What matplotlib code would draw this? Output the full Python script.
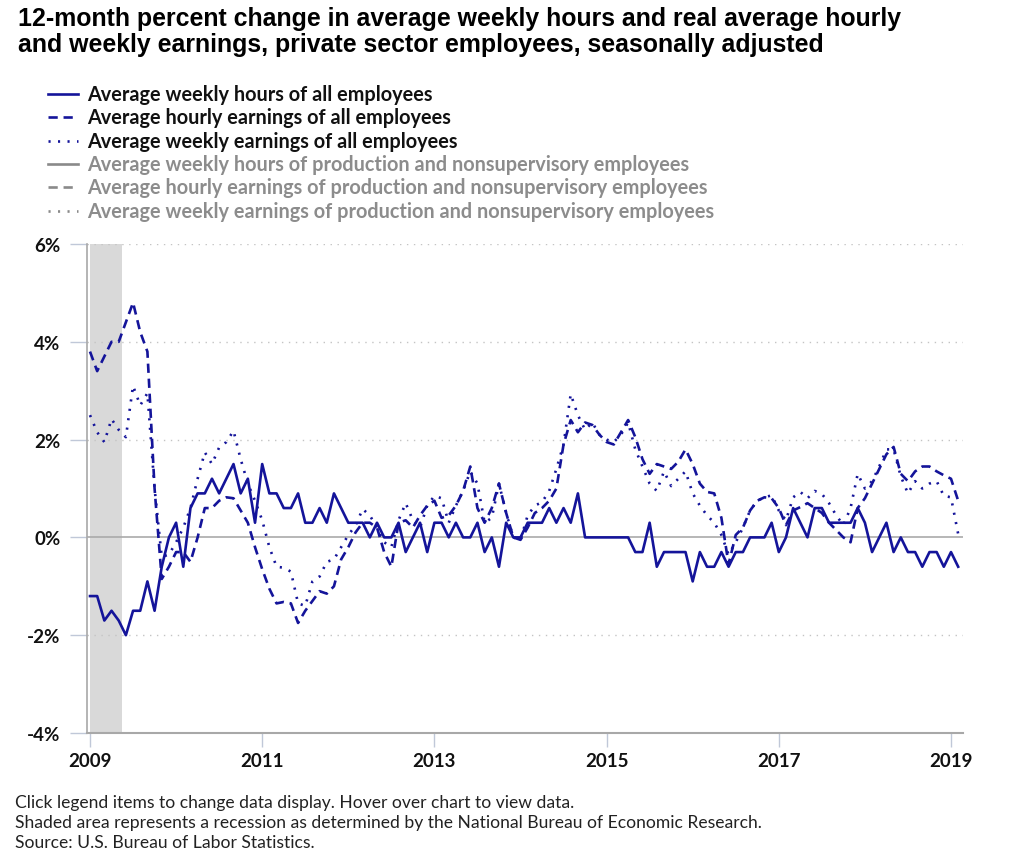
import matplotlib
matplotlib.use("Agg")
import matplotlib.pyplot as plt
from matplotlib.lines import Line2D
import numpy as np

# monthly series, Jan 2009 - Feb 2019 (12-month percent change)
hours_all = [
    -1.2, -1.2, -1.7, -1.5, -1.7, -2.0, -1.5, -1.5, -0.9, -1.5, -0.6, 0.0,
    0.3, -0.6, 0.6, 0.9, 0.9, 1.2, 0.9, 1.2, 1.5, 0.9, 1.2, 0.3,
    1.5, 0.9, 0.9, 0.6, 0.6, 0.9, 0.3, 0.3, 0.6, 0.3, 0.9, 0.6,
    0.3, 0.3, 0.3, 0.0, 0.3, 0.0, 0.0, 0.3, -0.3, 0.0, 0.3, -0.3,
    0.3, 0.3, 0.0, 0.3, 0.0, 0.0, 0.3, -0.3, 0.0, -0.6, 0.3, 0.0,
    0.0, 0.3, 0.3, 0.3, 0.6, 0.3, 0.6, 0.3, 0.9, 0.0, 0.0, 0.0,
    0.0, 0.0, 0.0, 0.0, -0.3, -0.3, 0.3, -0.6, -0.3, -0.3, -0.3, -0.3,
    -0.9, -0.3, -0.6, -0.6, -0.3, -0.6, -0.3, -0.3, 0.0, 0.0, 0.0, 0.3,
    -0.3, 0.0, 0.6, 0.3, 0.0, 0.6, 0.6, 0.3, 0.3, 0.3, 0.3, 0.6,
    0.3, -0.3, 0.0, 0.3, -0.3, 0.0, -0.3, -0.3, -0.6, -0.3, -0.3, -0.6,
    -0.3, -0.6,
]
hourly_earn_all = [
    3.8, 3.4, 3.7, 4.0, 4.0, 4.4, 4.8, 4.2, 3.8, 1.0, -0.85, -0.6,
    -0.3, -0.3, -0.5, 0.0, 0.6, 0.6, 0.75, 0.82, 0.8, 0.55, 0.3, -0.2,
    -0.65, -1.05, -1.35, -1.32, -1.35, -1.75, -1.5, -1.3, -1.1, -1.15, -1.0, -0.45,
    -0.2, 0.1, 0.3, 0.3, 0.2, -0.3, -0.6, 0.3, 0.35, 0.2, 0.45, 0.65,
    0.75, 0.4, 0.45, 0.65, 0.95, 1.45, 0.6, 0.3, 0.6, 1.1, 0.5, 0.0,
    -0.05, 0.2, 0.5, 0.6, 0.75, 1.0, 1.9, 2.4, 2.15, 2.35, 2.3, 2.1,
    1.95, 1.9, 2.15, 2.4, 2.05, 1.6, 1.3, 1.5, 1.45, 1.4, 1.55, 1.8,
    1.5, 1.1, 0.93, 0.9, 0.4, -0.55, 0.05, 0.2, 0.55, 0.75, 0.82, 0.8,
    0.6, 0.25, 0.55, 0.62, 0.7, 0.6, 0.5, 0.3, 0.15, 0.0, -0.1, 0.6,
    0.8, 1.1, 1.4, 1.7, 1.85, 1.3, 1.15, 1.35, 1.45, 1.45, 1.35, 1.27,
    1.2, 0.75,
]
weekly_earn_all = [
    2.5, 2.15, 1.95, 2.42, 2.2, 2.05, 3.1, 2.7, 2.95, 1.0, -0.4, -0.35,
    -0.1, 0.2, 0.6, 1.2, 1.74, 1.5, 1.84, 1.95, 2.18, 1.6, 1.1, 0.75,
    0.35, -0.2, -0.6, -0.62, -0.7, -1.35, -1.4, -0.9, -0.8, -0.5, -0.45, -0.2,
    0.05, 0.24, 0.58, 0.45, 0.2, -0.1, -0.2, 0.35, 0.7, 0.35, 0.2, 0.65,
    0.85, 0.8, 0.3, 0.65, 0.95, 1.35, 1.1, 0.3, 0.4, 1.1, 0.5, 0.0,
    -0.05, 0.45, 0.65, 0.72, 0.95, 1.4, 1.9, 2.93, 2.5, 2.2, 2.35, 2.1,
    2.0, 1.95, 2.1, 2.35, 1.8, 1.45, 1.1, 0.95, 1.35, 1.05, 1.2, 1.35,
    0.9, 0.65, 0.45, 0.3, 0.05, -0.35, -0.1, 0.2, 0.55, 0.75, 0.82, 0.86,
    0.55, 0.35, 0.82, 0.93, 0.8, 0.95, 0.89, 0.7, 0.45, 0.25, 0.6, 1.3,
    1.0, 1.15, 1.45, 1.8, 1.8, 1.25, 0.9, 1.15, 1.0, 1.1, 1.15, 0.85,
    0.82, 0.07,
]
legend_labels = [
    "Average weekly hours of all employees",
    "Average hourly earnings of all employees",
    "Average weekly earnings of all employees",
    "Average weekly hours of production and nonsupervisory employees",
    "Average hourly earnings of production and nonsupervisory employees",
    "Average weekly earnings of production and nonsupervisory employees",
]
title_lines = [
    "12-month percent change in average weekly hours and real average hourly",
    "and weekly earnings, private sector employees, seasonally adjusted",
]
notes = [
    "Click legend items to change data display. Hover over chart to view data.",
    "Shaded area represents a recession as determined by the National Bureau of Economic Research.",
    "Source: U.S. Bureau of Labor Statistics.",
]
y_ticks = [-4, -2, 0, 2, 4, 6]
x_ticks = [2009, 2011, 2013, 2015, 2017, 2019]
recession = (2009.0, 2009.375)

NAVY = "#14149a"
GRAY_TXT = "#8c8c8c"
FONT = "Lato"

W, H = 1024, 862
fig = plt.figure(figsize=(W / 100, H / 100), dpi=100)


def fx(px):
    return px / W


def fy(py):
    return 1 - py / H


ax = fig.add_axes([fx(87), fy(734), fx(963) - fx(87), fy(245) - fy(734)])

t = 2009 + np.arange(len(hours_all)) / 12.0
ax.axvspan(*recession, color="#d9d9d9", lw=0, zorder=0)
for yv in [6, 4, 2, -2]:
    ax.axhline(yv, color="#c4c4c4", lw=1.0, ls=(0, (1, 4)), zorder=1)
ax.axhline(0, color="#aaaaaa", lw=1.2, zorder=1)

lw = 1.9
dash = (0, (3.5, 2.2))
dot = (0, (0.8, 2.8))
ax.plot(t, hours_all, color=NAVY, lw=lw, zorder=3)
ax.plot(t, hourly_earn_all, color=NAVY, lw=lw, ls=dash, zorder=3)
ax.plot(t, weekly_earn_all, color=NAVY, lw=lw, ls=dot, zorder=3)

ax.set_xlim(2009 + (87 - 90) / 86.1, 2009 + (963 - 90) / 86.1)
ax.set_ylim(-4, 6)
ax.set_yticks(y_ticks)
ax.set_yticklabels([f"{v}%" for v in y_ticks])
ax.set_xticks(x_ticks)
ax.set_xticklabels([str(v) for v in x_ticks])
for s in ["top", "right"]:
    ax.spines[s].set_visible(False)
ax.spines["left"].set_color("#a8a8a8")
ax.spines["bottom"].set_color("#a8a8a8")
ax.spines["left"].set_linewidth(1.2)
ax.spines["bottom"].set_linewidth(1.5)
ax.tick_params(axis="y", length=12, width=1, color="#c0c8d8", pad=7)
ax.tick_params(axis="x", length=10, width=1, color="#c0c8d8", pad=4)
for lab in ax.get_yticklabels() + ax.get_xticklabels():
    lab.set_fontfamily(FONT)
    lab.set_fontweight("bold")
    lab.set_fontsize(13.5)
    lab.set_color("#111111")

# title, two lines
for i, line in enumerate(title_lines):
    fig.text(fx(18), fy(19 + i * 26), line, ha="left", va="center",
             fontsize=17.9, fontweight="bold", family="Liberation Sans")

# legend drawn by hand
styles = ["-", dash, dot] * 2
for i, (lab, st) in enumerate(zip(legend_labels, styles)):
    ypx = 95 + i * 23.3
    col = NAVY if i < 3 else "#8a8a8a"
    tcol = "#111111" if i < 3 else GRAY_TXT
    fig.add_artist(Line2D([fx(48), fx(78)], [fy(ypx), fy(ypx)], color=col,
                          lw=1.9, ls=st, transform=fig.transFigure))
    fig.text(fx(87), fy(ypx), lab, ha="left", va="center", fontsize=14.3,
             fontweight="bold", family=FONT, color=tcol)

for i, n in enumerate(notes):
    fig.text(fx(15), fy(803 + i * 20), n, ha="left", va="center", fontsize=12.6,
             family=FONT, color="#222222")

fig.savefig("out.png", dpi=100)
